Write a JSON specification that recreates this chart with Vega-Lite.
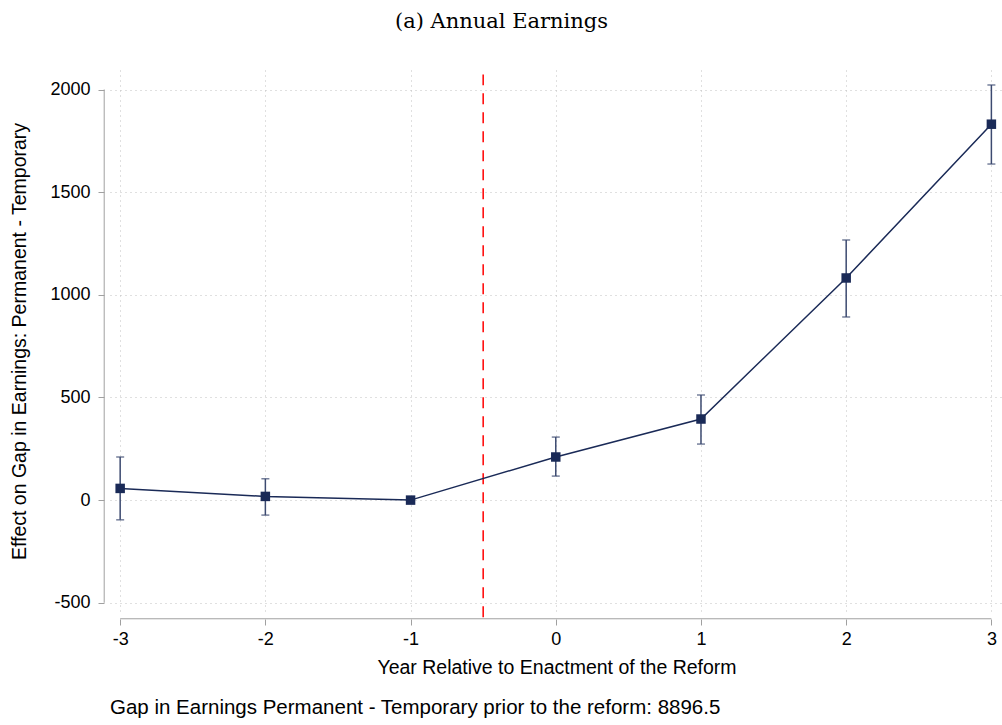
{
  "$schema": "https://vega.github.io/schema/vega-lite/v6.json",
  "autosize": {"type": "none"},
  "width": 893,
  "height": 542,
  "padding": {"left": 110, "top": 70, "right": 0, "bottom": 113},
  "background": "white",
  "title": {"text": "(a) Annual Earnings", "font": "DejaVu Serif", "fontSize": 21, "fontWeight": "normal", "color": "#000000", "anchor": "middle", "dx": -55, "offset": 38},
  "config": {
    "view": {"stroke": null},
    "axis": {"labelFont": "Liberation Sans", "titleFont": "Liberation Sans", "labelFontSize": 18, "titleFontSize": 19.5, "titleFontWeight": "normal", "labelColor": "#000000", "titleColor": "#000000", "gridColor": "#c0c0c0", "gridDash": [1, 4], "gridWidth": 1, "tickColor": "#a0a0a0", "tickSize": 6, "domain": false, "labelExpr": "'' + datum.value"}
  },
  "datasets": {
    "est": [
      {"year": -3, "coef": 57, "lo": -96, "hi": 210},
      {"year": -2, "coef": 18, "lo": -73, "hi": 104},
      {"year": -1, "coef": 0, "lo": 0, "hi": 0},
      {"year": 0, "coef": 210, "lo": 117, "hi": 307},
      {"year": 1, "coef": 395, "lo": 273, "hi": 512},
      {"year": 2, "coef": 1082, "lo": 892, "hi": 1267},
      {"year": 3, "coef": 1831, "lo": 1637, "hi": 2022}
    ]
  },
  "layer": [
    {
      "data": {"values": [{"x": -0.5, "y1": -570, "y2": 2073}]},
      "mark": {"type": "rule", "color": "#ff0000", "strokeWidth": 1.5, "strokeDash": [11, 8]},
      "encoding": {
        "x": {"field": "x", "type": "quantitative", "scale": {"domain": [-3.07, 3.08], "nice": false, "zero": false},
          "axis": {"values": [-3, -2, -1, 0, 1, 2, 3], "title": "Year Relative to Enactment of the Reform", "offset": 7, "labelPadding": 5, "titlePadding": 10, "grid": true}},
        "y": {"field": "y1", "type": "quantitative", "scale": {"domain": [-545, 2095], "nice": false, "zero": false},
          "axis": {"values": [-500, 0, 500, 1000, 1500, 2000], "title": "Effect on Gap in Earnings: Permanent - Temporary", "offset": 6, "labelPadding": 8, "titlePadding": 20, "grid": true}},
        "y2": {"field": "y2"}
      }
    },
    {
      "data": {"values": [{"x": -3.11, "y1": -500, "y2": 2000}]},
      "mark": {"type": "rule", "color": "#a0a0a0", "strokeWidth": 1},
      "encoding": {"x": {"field": "x", "type": "quantitative"}, "y": {"field": "y1", "type": "quantitative"}, "y2": {"field": "y2"}}
    },
    {
      "data": {"values": [{"x1": -3, "x2": 3, "y": -578}]},
      "mark": {"type": "rule", "color": "#a0a0a0", "strokeWidth": 1},
      "encoding": {"x": {"field": "x1", "type": "quantitative"}, "x2": {"field": "x2"}, "y": {"field": "y", "type": "quantitative"}}
    },
    {
      "data": {"name": "est"},
      "mark": {"type": "rule", "color": "#3c4a70", "strokeWidth": 1.5},
      "encoding": {"x": {"field": "year", "type": "quantitative"}, "y": {"field": "lo", "type": "quantitative"}, "y2": {"field": "hi"}}
    },
    {
      "data": {"name": "est"},
      "mark": {"type": "tick", "orient": "horizontal", "color": "#3c4a70", "size": 8, "thickness": 1.5},
      "encoding": {"x": {"field": "year", "type": "quantitative"}, "y": {"field": "lo", "type": "quantitative"}}
    },
    {
      "data": {"name": "est"},
      "mark": {"type": "tick", "orient": "horizontal", "color": "#3c4a70", "size": 8, "thickness": 1.5},
      "encoding": {"x": {"field": "year", "type": "quantitative"}, "y": {"field": "hi", "type": "quantitative"}}
    },
    {
      "data": {"name": "est"},
      "mark": {"type": "line", "color": "#1a2a57", "strokeWidth": 1.5},
      "encoding": {"x": {"field": "year", "type": "quantitative"}, "y": {"field": "coef", "type": "quantitative"}}
    },
    {
      "data": {"name": "est"},
      "mark": {"type": "square", "color": "#1a2a57", "filled": true, "opacity": 1, "size": 90},
      "encoding": {"x": {"field": "year", "type": "quantitative"}, "y": {"field": "coef", "type": "quantitative"}}
    },
    {
      "data": {"values": [{"x": -3.07, "y": -1012, "t": "Gap in Earnings Permanent - Temporary prior to the reform: 8896.5"}]},
      "mark": {"type": "text", "align": "left", "baseline": "middle", "font": "Liberation Sans", "fontSize": 20.5, "color": "#000000"},
      "encoding": {"x": {"field": "x", "type": "quantitative"}, "y": {"field": "y", "type": "quantitative"}, "text": {"field": "t"}}
    }
  ]
}
